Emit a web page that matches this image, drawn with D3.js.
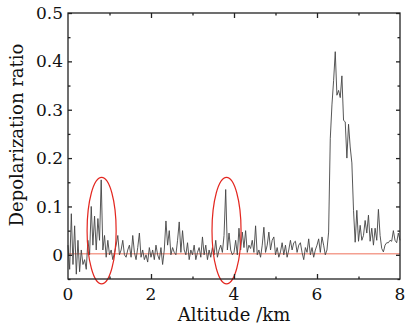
<!DOCTYPE html>
<html>
<head>
<meta charset="utf-8">
<script src="https://cdn.jsdelivr.net/npm/d3@7"></script>
<style>
    body { margin: 0; background: #fff; }
    svg text { font-family: "DejaVu Serif", serif; fill: #111; }
</style>
</head>
<body>
<div id="chart"></div>
<script>
    // lidar bins: start + step in km
    var altStart = 0;
    var altStep = 0.04;

    var depolRatio = [
        0.02, -0.03, 0.085, -0.02, 0.06, -0.04, 0.03, -0.035, 0.01, -0.02,
        -0.01, -0.03, 0.03, 0.0, 0.1, 0.02, 0.08, 0.01, 0.075, 0.03,
        0.155, 0.01, 0.04, -0.005, 0.03, 0.0, 0.01, -0.01, 0.005, 0.02,
        0.04, 0.0, 0.01, 0.03, 0.0, -0.005, 0.01, 0.02, -0.005, 0.04,
        0.005, -0.01, 0.015, 0.045, -0.005, 0.01, -0.01, 0.0, -0.015, 0.015,
        -0.005, 0.01, -0.01, 0.02, 0.0, -0.01, 0.015, -0.02, 0.01, 0.07,
        0.02, 0.05, 0.0, 0.015, 0.005, 0.0, 0.03, 0.068, 0.005, 0.05,
        0.01, 0.0, 0.025, -0.01, 0.01, 0.0, 0.02, -0.01, 0.005, 0.015,
        -0.005, 0.037, 0.0, 0.02, -0.01, 0.01, -0.005, 0.015, 0.0, 0.03,
        -0.005, 0.01, 0.02, 0.005, 0.04, 0.135, 0.01, 0.045, 0.01, 0.0,
        0.005, 0.03, 0.0, 0.055, 0.01, 0.047, 0.015, 0.05, 0.005, 0.02,
        0.013, 0.03, 0.005, 0.06, 0.0, 0.01, -0.005, 0.02, 0.057, 0.005,
        0.02, 0.047, 0.01, 0.03, 0.037, 0.0, 0.015, -0.005, 0.006, 0.025,
        0.0, 0.02, -0.005, 0.01, 0.03, 0.01, 0.025, 0.028, 0.005, 0.02,
        0.025, 0.005, -0.01, 0.015, 0.005, 0.033, 0.0, 0.015, -0.005, 0.01,
        0.02, 0.033, 0.005, 0.037, 0.02, 0.0, 0.01, 0.047, 0.24, 0.31,
        0.36, 0.42, 0.33, 0.34, 0.325, 0.37, 0.278, 0.275, 0.2, 0.27,
        0.223, 0.19, 0.092, 0.026, 0.092, 0.028, 0.061, 0.03, 0.04, 0.071,
        0.045, 0.082, 0.028, 0.055, 0.02, 0.055, 0.03, 0.094, 0.04, 0.013,
        0.006, 0.02, 0.025, 0.025, 0.03, 0.028, 0.05, 0.03, 0.025, 0.045,
        0.03
    ];

    var xTicks = [0, 2, 4, 6, 8];
    var xMinor = [1, 3, 5, 7];
    var yTicks = [0, 0.1, 0.2, 0.3, 0.4, 0.5];
    var yMinor = [-0.05, 0.05, 0.15, 0.25, 0.35, 0.45];
    var yTickLabels = ["0", "0.1", "0.2", "0.3", "0.4", "0.5"];

    // marked layers (altitude km)
    var markedLayers = [0.81, 3.82];
    var referenceLevel = [0];

    var width = 406, height = 329;
    var margin = { top: 13, right: 6, bottom: 50, left: 68 };

    var svg = d3.select("#chart").append("svg")
        .attr("width", width)
        .attr("height", height)
    ;

    var x = d3.scaleLinear().domain([0, 8]).range([margin.left, width - margin.right]);
    var y = d3.scaleLinear().domain([-0.05, 0.5]).range([height - margin.bottom, margin.top]);

    var data = depolRatio.map(function (v, i) { return { alt: altStart + i * altStep, v: v }; });

    // reference line at zero
    svg.selectAll("line.ref").data(referenceLevel).enter().append("line")
        .attr("class", "ref")
        .attr("x1", x(0))
        .attr("x2", x(8))
        .attr("y1", function (d) { return y(d) - 1; })
        .attr("y2", function (d) { return y(d) - 1; })
        .attr("stroke", "#f4a091")
        .attr("stroke-width", 1.5)
    ;

    var line = d3.line()
        .x(function (d) { return x(d.alt); })
        .y(function (d) { return y(d.v); })
    ;
    svg.append("path")
        .datum(data)
        .attr("d", line)
        .attr("fill", "none")
        .attr("stroke", "#444")
        .attr("stroke-width", 0.9)
    ;

    // ellipses round the marked layers
    var rx = x(0.35) - x(0);
    svg.selectAll("ellipse").data(markedLayers).enter().append("ellipse")
        .attr("cx", function (d) { return x(d); })
        .attr("cy", (y(0.16) + y(-0.06)) / 2)
        .attr("rx", rx)
        .attr("ry", (y(-0.06) - y(0.16)) / 2)
        .attr("fill", "none")
        .attr("stroke", "#e3261f")
        .attr("stroke-width", 1.2)
    ;

    // frame + inward ticks on all four sides
    var x0 = x.range()[0], x1 = x.range()[1];
    var y0 = y.range()[0], y1 = y.range()[1];

    function addAxis(axis, pos, tickVals, size) {
        var g = svg.append("g")
            .attr("transform", pos)
            .call(axis.tickValues(tickVals).tickSize(size).tickSizeOuter(0).tickFormat(""))
        ;
        g.select(".domain").remove();
        g.selectAll("line").attr("stroke", "#222").attr("stroke-width", 1.3);
        return g;
    }
    addAxis(d3.axisTop(x), "translate(0," + y0 + ")", xTicks.slice(1, -1), 5);
    addAxis(d3.axisTop(x), "translate(0," + y0 + ")", xMinor, 2.5);
    addAxis(d3.axisBottom(x), "translate(0," + y1 + ")", xTicks.slice(1, -1), 5);
    addAxis(d3.axisBottom(x), "translate(0," + y1 + ")", xMinor, 2.5);
    addAxis(d3.axisRight(y), "translate(" + x0 + ",0)", yTicks, 4);
    addAxis(d3.axisRight(y), "translate(" + x0 + ",0)", yMinor, 2.5);
    addAxis(d3.axisLeft(y), "translate(" + x1 + ",0)", yTicks, 4);
    addAxis(d3.axisLeft(y), "translate(" + x1 + ",0)", yMinor, 2.5);

    svg.append("rect")
        .attr("x", x0)
        .attr("y", y1)
        .attr("width", x1 - x0)
        .attr("height", y0 - y1)
        .attr("fill", "none")
        .attr("stroke", "#222")
        .attr("stroke-width", 1.3)
    ;

    // tick labels
    svg.selectAll("text.ylab").data(yTicks).enter().append("text")
        .attr("class", "ylab")
        .attr("x", x0 - 5)
        .attr("y", function (d) { return y(d); })
        .attr("dy", "0.36em")
        .style("text-anchor", "end")
        .style("font-size", "17px")
        .text(function (d, i) { return yTickLabels[i]; })
    ;
    svg.selectAll("text.xlab").data(xTicks).enter().append("text")
        .attr("class", "xlab")
        .attr("x", function (d) { return x(d); })
        .attr("y", y0 + 21)
        .style("text-anchor", "middle")
        .style("font-size", "17px")
        .text(function (d) { return d; })
    ;

    svg.append("text")
        .attr("x", (x0 + x1) / 2)
        .attr("y", 321)
        .style("text-anchor", "middle")
        .style("font-size", "18px")
        .text("Altitude /km")
    ;
    svg.append("text")
        .attr("transform", "translate(23,135) rotate(-90)")
        .style("text-anchor", "middle")
        .style("font-size", "18px")
        .text("Depolarization ratio")
    ;
</script>
</body>
</html>
